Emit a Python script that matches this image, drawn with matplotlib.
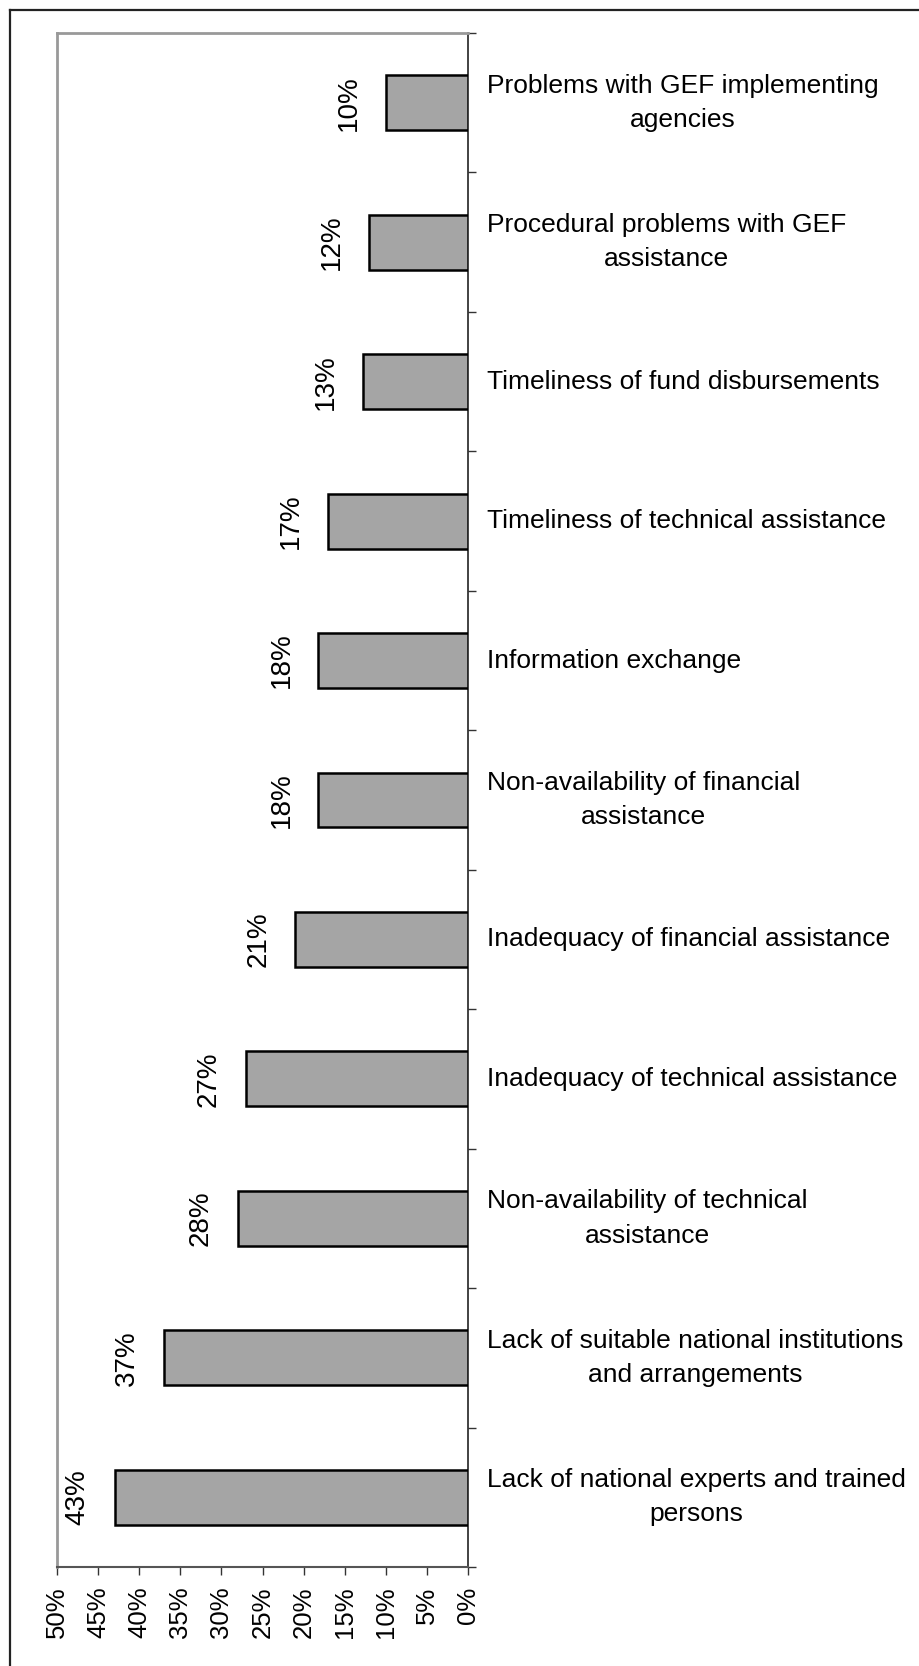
import matplotlib.pyplot as plt
import numpy as np
from matplotlib.lines import Line2D

plt.rcParams['font.family'] = ['Liberation Sans', 'DejaVu Sans']

# data (top to bottom)
categories = [
    'Problems with GEF implementing\nagencies',
    'Procedural problems with GEF\nassistance',
    'Timeliness of fund disbursements',
    'Timeliness of technical assistance',
    'Information exchange',
    'Non-availability of financial\nassistance',
    'Inadequacy of financial assistance',
    'Inadequacy of technical assistance',
    'Non-availability of technical\nassistance',
    'Lack of suitable national institutions\nand arrangements',
    'Lack of national experts and trained\npersons',
]
values = [10, 12, 12.8, 17, 18.2, 18.2, 21, 27, 28, 37, 43]
value_labels = ['10%', '12%', '13%', '17%', '18%', '18%', '21%', '27%', '28%', '37%', '43%']
xticks = [0, 5, 10, 15, 20, 25, 30, 35, 40, 45, 50]

fig = plt.figure(figsize=(9.19, 16.66), dpi=100)
ax = fig.add_axes([57/919, 1-1567/1666, 411/919, 1534/1666])

y = np.arange(len(categories))
ax.barh(y, values, height=0.394, color='#a5a5a5', edgecolor='black', linewidth=1.8, zorder=3)

ax.set_xlim(50, 0)
ax.set_ylim(len(categories) - 0.5, -0.5)

ax.set_xticks(xticks)
ax.set_xticklabels([f'{t}%' for t in xticks], rotation=90, fontsize=18.5)
ax.tick_params(axis='x', direction='out', length=6, width=1, color='#333333', pad=8)

ax.yaxis.tick_right()
ax.set_yticks(np.arange(len(categories) + 1) - 0.5)
ax.set_yticklabels([])
ax.tick_params(axis='y', direction='out', length=6, width=1, color='#333333')

for s in ['left', 'top']:
    ax.spines[s].set_color('#999999')
    ax.spines[s].set_linewidth(2)
ax.spines['right'].set_color('#222222')
ax.spines['right'].set_linewidth(1.2)
ax.spines['bottom'].set_color('#555555')
ax.spines['bottom'].set_linewidth(1.5)

# value labels
for yi, v, lab in zip(y, values, value_labels):
    ax.annotate(lab, xy=(v, yi), xytext=(-24, 0), textcoords='offset pixels',
                rotation=90, ha='right', va='center', fontsize=20)

# category labels on the right
tr = ax.get_yaxis_transform()
for yi, cat in zip(y, categories):
    ax.text(1.046, yi, cat, transform=tr, ha='left', va='center',
            multialignment='center', fontsize=19, linespacing=1.55)

# outer frame (left and top edges)
fig.add_artist(Line2D([10/919, 10/919], [0, 1-10/1666], transform=fig.transFigure,
                      color='#222222', linewidth=1.6))
fig.add_artist(Line2D([10/919, 1], [1-10/1666, 1-10/1666], transform=fig.transFigure,
                      color='#222222', linewidth=1.6))

fig.savefig('out.png', dpi=100)
